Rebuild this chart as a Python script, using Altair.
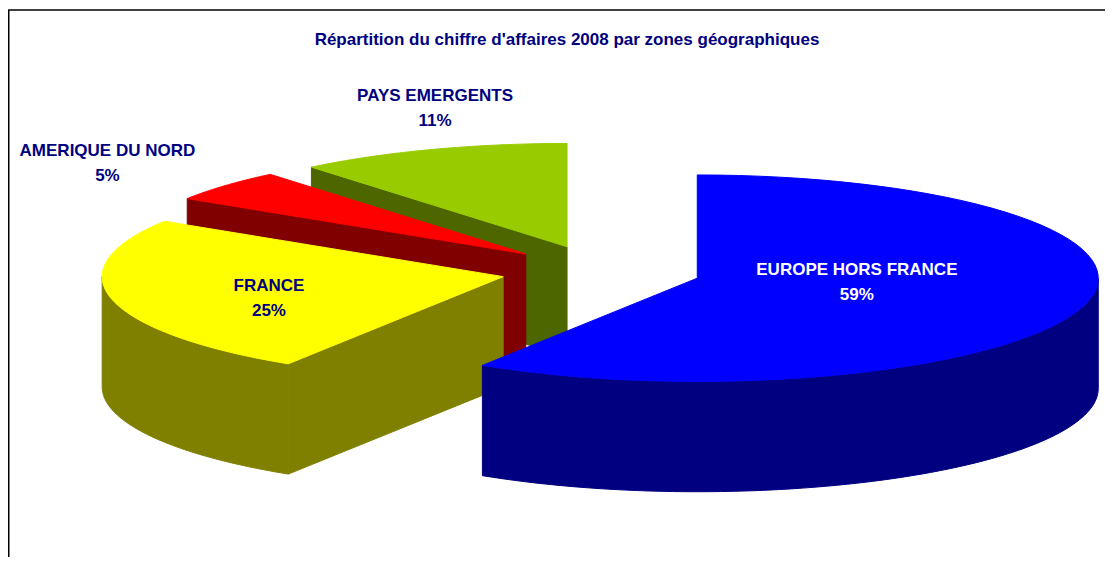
import altair as alt
import pandas as pd

# ---------------- data ----------------
zones = ["EUROPE HORS FRANCE", "FRANCE", "AMERIQUE DU NORD", "PAYS EMERGENTS"]
shares = [59, 25, 5, 11]
pct_labels = ["59%", "25%", "5%", "11%"]
top_colors = ["#0000FF", "#FFFF00", "#FF0000", "#99CC00"]
side_colors = ["#000080", "#808000", "#800000", "#4D6600"]
label_colors = ["#FFFFFF", "#000080", "#000080", "#000080"]
title_text = "Répartition du chiffre d'affaires 2008 par zones géographiques"

# ---------------- layout ----------------
W, H = 1097, 549          # plot area (page minus 8px margins)
CX, CY = 593, 263         # pie centre inside the plot, px
RX = 401                  # horizontal radius, px
TILT = 0.2575             # vertical squash of the ellipse
DEPTH = 0.275             # thickness (radius units)
EXPLODE = 0.25            # explosion (radius units)
N = 72                    # arc resolution
draw_order = [3, 2, 1, 0]  # back to front
label_r = [0.40, 0.62, 1.36, 1.38]
label_shift = [-10.5, -7.0, -1.5, 6.0]
LINE_H = 25
FONT = "Liberation Sans, Arial"

df = pd.DataFrame({
    "idx": list(range(len(zones))),
    "zone": zones,
    "share": shares,
    "pct": pct_labels,
    "lr": label_r,
    "lshift": label_shift,
})

xs = alt.Scale(domain=[-CX / RX, (W - CX) / RX], nice=False, zero=False)
ys = alt.Scale(domain=[-(H - CY) / RX, CY / RX], nice=False, zero=False)


def base():
    return (
        alt.Chart(df)
        .transform_window(cum="sum(share)", sort=[alt.SortField("idx")], frame=[None, 0])
        .transform_joinaggregate(total="sum(share)")
        .transform_calculate(a0="2*PI*(datum.cum - datum.share)/datum.total")
        .transform_calculate(a1="2*PI*datum.cum/datum.total")
        .transform_calculate(am="(datum.a0 + datum.a1)/2")
        .transform_calculate(ox=f"{EXPLODE}*sin(datum.am)")
        .transform_calculate(oy=f"{EXPLODE}*cos(datum.am)")
    )


def polygon(chart, color):
    return chart.mark_line(
        fill=color, stroke=color, strokeWidth=1, interpolate="linear-closed", strokeJoin="round"
    ).encode(
        x=alt.X("X:Q", scale=xs, axis=None),
        y=alt.Y("Y:Q", scale=ys, axis=None),
        order=alt.Order("k:Q"),
    )


def top_face(i):
    c = (
        base()
        .transform_filter(f"datum.idx == {i}")
        .transform_calculate(k=f"sequence(0, {N + 2})")
        .transform_flatten(["k"])
        .transform_calculate(a=f"datum.a0 + (datum.a1 - datum.a0)*min(datum.k, {N})/{N}")
        .transform_calculate(r=f"datum.k <= {N} ? 1 : 0")
        .transform_calculate(X="datum.ox + datum.r*sin(datum.a)")
        .transform_calculate(Y=f"{TILT}*(datum.oy + datum.r*cos(datum.a))")
    )
    return polygon(c, top_colors[i])


def rim(i):
    c = (
        base()
        .transform_filter(f"datum.idx == {i}")
        .transform_calculate(lo="max(datum.a0, PI/2)")
        .transform_calculate(hi="min(datum.a1, 3*PI/2)")
        .transform_filter("datum.lo < datum.hi")
        .transform_calculate(k=f"sequence(0, {2 * N + 2})")
        .transform_flatten(["k"])
        .transform_calculate(
            a=f"datum.k <= {N} ? datum.lo + (datum.hi - datum.lo)*datum.k/{N}"
              f" : datum.hi - (datum.hi - datum.lo)*(datum.k - {N + 1})/{N}"
        )
        .transform_calculate(z=f"datum.k <= {N} ? 0 : {DEPTH}")
        .transform_calculate(X="datum.ox + sin(datum.a)")
        .transform_calculate(Y=f"{TILT}*(datum.oy + cos(datum.a)) - datum.z")
    )
    return polygon(c, side_colors[i])


def start_face(i):
    c = (
        base()
        .transform_filter(f"datum.idx == {i}")
        .transform_filter("sin(datum.a0) < -0.000001")
        .transform_calculate(k="sequence(0, 4)")
        .transform_flatten(["k"])
        .transform_calculate(r="(datum.k == 1 || datum.k == 2) ? 1 : 0")
        .transform_calculate(z=f"datum.k >= 2 ? {DEPTH} : 0")
        .transform_calculate(X="datum.ox + datum.r*sin(datum.a0)")
        .transform_calculate(Y=f"{TILT}*(datum.oy + datum.r*cos(datum.a0)) - datum.z")
    )
    return polygon(c, side_colors[i])


layers = []
for i in draw_order:
    layers += [rim(i), start_face(i), top_face(i)]

labels = (
    base()
    .transform_calculate(la="datum.am + datum.lshift*PI/180")
    .transform_calculate(X="datum.ox + datum.lr*sin(datum.la)")
    .transform_calculate(Y=f"{TILT}*(datum.oy + datum.lr*cos(datum.la))")
    .transform_calculate(txt="[datum.zone, datum.pct]")
    .mark_text(font=FONT, fontSize=17, fontWeight="bold", align="center", baseline="middle",
               lineHeight=LINE_H, dy=-LINE_H / 2)
    .encode(
        x=alt.X("X:Q", scale=xs, axis=None),
        y=alt.Y("Y:Q", scale=ys, axis=None),
        text="txt:N",
        color=alt.Color("zone:N", scale=alt.Scale(domain=zones, range=label_colors), legend=None),
    )
)

title = alt.Chart(pd.DataFrame({"t": [title_text]})).mark_text(
    font=FONT, fontSize=17, fontWeight="bold", color="#000080", align="center", baseline="middle"
).encode(x=alt.value(559), y=alt.value(32), text="t:N")

frame_top = alt.Chart(pd.DataFrame({"v": [0]})).mark_rule(color="black", strokeWidth=1.5).encode(
    x=alt.value(0), x2=alt.value(W), y=alt.value(2)
)
frame_left = alt.Chart(pd.DataFrame({"v": [0]})).mark_rule(color="black", strokeWidth=2).encode(
    x=alt.value(0.5), y=alt.value(2), y2=alt.value(H)
)

chart = (
    alt.layer(*layers, labels, title, frame_top, frame_left)
    .properties(width=W, height=H, autosize=alt.AutoSizeParams(type="none"), padding=0)
    .configure_view(strokeWidth=0)
    .resolve_scale(color="independent")
)

chart.save("out.html", embed_options={"renderer": "svg", "actions": False})
